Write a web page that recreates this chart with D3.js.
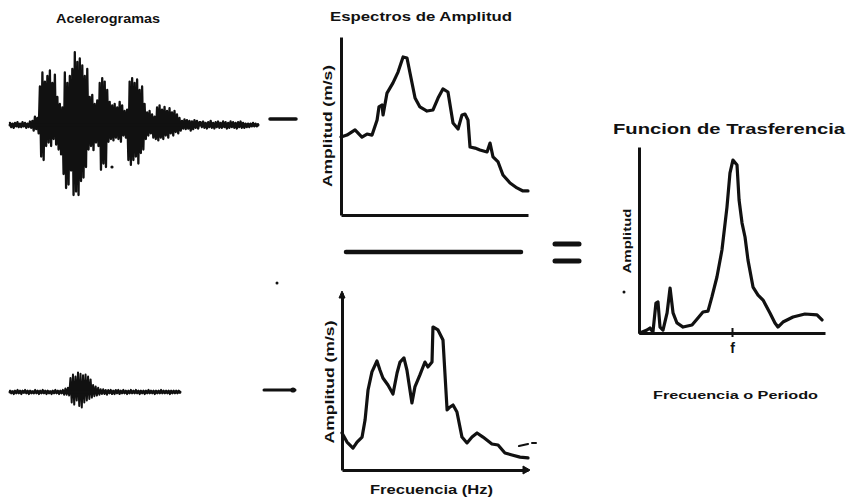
<!DOCTYPE html>
<html><head><meta charset="utf-8">
<script src="https://cdn.jsdelivr.net/npm/d3@7/dist/d3.min.js"></script>
<style>
html,body{margin:0;padding:0;background:#fff;}
svg{display:block;}
text{font-family:"Liberation Sans",Arial,sans-serif;font-weight:bold;fill:#111;}
</style></head>
<body><svg id="c" width="852" height="501"></svg>
<script>
// ---------- DATA ----------
// Accelerogram samples (arbitrary acceleration units), strong record
const accelStrong = [
 0.03,-0.03,0.02,-0.04,0.03,-0.02,0.04,-0.03,0.02,-0.03,0.04,-0.02,0.03,-0.04,0.02,-0.03,0.05,-0.04,0.06,
 -0.08,0.12,-0.06,0.1,-0.12,
 0.55,-0.45,0.75,-0.5,0.62,-0.3,0.7,
 -0.25,0.78,-0.3,0.6,-0.2,0.72,-0.28,0.4,
 -0.35,0.3,-0.42,0.25,
 -0.7,0.75,-0.9,0.6,-0.85,0.7,-0.65,0.8,
 -1.0,1.04,-0.95,0.9,-1.0,0.95,
 -0.8,0.85,-0.75,0.7,-0.6,0.8,
 -0.35,0.4,-0.3,0.43,-0.36,0.3,-0.25,0.35,-0.3,
 0.6,-0.64,0.67,-0.55,0.62,-0.6,0.5,
 -0.24,0.33,-0.2,0.28,-0.22,0.3,-0.18,0.25,-0.2,0.33,-0.24,0.28,-0.15,0.2,-0.18,0.22,
 -0.5,0.62,-0.57,0.67,-0.5,0.6,-0.45,0.65,-0.55,0.5,-0.4,0.55,-0.35,0.3,
 -0.2,0.18,-0.15,0.2,-0.12,0.15,-0.18,0.12,
 -0.2,0.25,-0.22,0.28,-0.18,0.22,-0.2,0.26,-0.15,0.2,-0.18,0.24,-0.12,0.18,-0.15,0.2,-0.1,0.15,-0.12,0.1,
 -0.08,0.06,-0.05,0.08,-0.06,0.07,-0.05,0.06,-0.08,0.05,-0.06,0.07,-0.04,0.06,-0.05,0.04,
 0.04,-0.03,0.05,-0.04,0.03,-0.05,0.04,-0.03,0.06,-0.04,0.03,-0.05,0.04,-0.03,0.05,-0.04,0.03,-0.04,0.05,-0.03,0.04,-0.05,0.03,-0.04,0.05,-0.03,0.04,-0.04,0.03,-0.05,0.04,-0.03,0.05,-0.04,0.03,-0.04,0.02,-0.03,0.02,-0.03,0.02,-0.02,0.03,-0.02,0.02,-0.02,0.01
];
// Accelerogram samples, weak record
const accelWeak = [
 0.02,-0.02,0.01,-0.03,0.02,-0.02,0.03,-0.02,0.02,-0.03,0.02,-0.01,0.03,-0.02,0.02,-0.03,0.02,-0.02,0.01,-0.02,0.03,-0.02,0.02,-0.03,
 0.02,-0.02,0.03,-0.02,0.02,-0.03,0.02,-0.02,0.01,-0.03,0.02,-0.02,0.03,-0.02,0.02,-0.03,0.02,-0.02,0.03,-0.04,0.05,-0.04,0.06,-0.05,
 0.2,-0.15,0.25,-0.18,0.22,-0.12,
 0.28,-0.2,0.26,-0.22,0.24,
 -0.15,0.25,-0.12,0.22,-0.1,0.18,
 -0.08,0.1,-0.06,0.08,-0.05,0.06,
 -0.04,0.04,-0.03,0.04,-0.03,0.03,-0.04,0.03,-0.02,0.03,-0.03,0.02,-0.03,0.03,-0.02,0.03,-0.03,0.02,-0.02,0.03,-0.02,0.02,-0.03,0.02,-0.02,0.03,-0.02,0.02,-0.02,0.03,
 -0.02,0.02,-0.03,0.02,-0.02,0.02,-0.03,0.02,-0.02,0.03,-0.02,0.02,-0.02,0.02,-0.03,0.02,-0.02,0.02,-0.02,0.03,-0.02,0.02,-0.02,0.02,-0.02,0.02,-0.03,0.02,-0.02,0.02,
 -0.02,0.02,-0.02,0.02,-0.01
];
// Amplitude spectrum of strong record: frequency (Hz), amplitude
const specTopFreq = [0,0.32,0.75,1.12,1.39,1.66,1.93,2.03,2.19,2.25,2.46,2.78,3.05,3.32,3.53,3.69,3.96,4.22,4.60,4.92,5.19,5.45,5.72,5.99,6.26,6.47,6.63,6.79,6.90,7.17,7.43,7.81,7.97,8.13,8.40,8.66,9.04,9.41,9.73,10.0];
const specTopAmp  = [4.38,4.49,4.78,4.38,4.55,4.49,5.34,6.07,6.18,5.62,6.85,7.42,8.03,8.88,8.82,7.98,6.57,6.07,5.84,5.90,6.57,7.08,6.91,5.17,4.83,5.62,5.67,5.34,3.82,3.76,3.65,3.54,4.04,3.26,2.98,2.25,1.80,1.52,1.35,1.35];
// Amplitude spectrum of weak record
const specBotFreq = [0,0.27,0.59,0.81,1.08,1.24,1.40,1.61,1.88,2.04,2.20,2.47,2.74,2.96,3.12,3.33,3.49,3.76,3.92,4.19,4.46,4.62,4.84,4.89,5.16,5.43,5.65,5.81,5.97,6.18,6.45,6.72,6.99,7.26,7.58,8.06,8.39,8.76,9.14,9.57,10.0];
const specBotAmp  = [2.09,1.58,1.24,1.58,1.86,2.82,4.52,5.54,6.16,5.65,5.20,4.80,4.29,5.48,6.10,6.33,5.65,3.79,4.69,5.37,6.10,5.82,6.10,8.08,7.91,7.34,3.39,3.56,3.67,3.28,1.86,1.53,1.86,2.09,1.86,1.47,1.41,0.96,0.85,0.73,0.68];
// Transfer function
const transFreq = [0.05,0.43,0.59,0.75,0.91,1.02,1.13,1.29,1.51,1.67,1.83,2.04,2.37,2.85,3.17,3.44,3.71,3.92,4.19,4.46,4.73,4.89,5.05,5.27,5.38,5.54,5.70,5.86,6.13,6.40,6.67,7.04,7.31,7.47,7.74,8.28,8.92,9.57,9.84];
const transAmp  = [0,0.16,0.27,0.05,1.61,1.67,0.32,0.16,1.08,2.42,1.08,0.54,0.32,0.43,0.81,1.13,1.18,1.94,3.01,4.46,6.77,8.60,9.30,9.03,7.15,5.91,5.16,3.92,2.47,2.04,1.77,1.08,0.54,0.32,0.59,0.86,1.02,0.97,0.70];
const transTicks = [5];
const transTickLabels = ["f"];

// ---------- DRAW ----------
const svg = d3.select("#c");
svg.append("rect").attr("width",852).attr("height",501).attr("fill","#fff");
const INK = "#111";

// Accelerograms
function drawAccel(data, x0, x1, base, sw){
  const x = d3.scaleLinear().domain([0,data.length-1]).range([x0,x1]);
  const y = d3.scaleLinear().domain([-1.1,1.1]).range([base+77, base-77]);
  svg.append("path").datum(data)
    .attr("d", d3.line().x((d,i)=>x(i)).y(d=>y(d)))
    .attr("fill","none").attr("stroke",INK).attr("stroke-width",sw)
    .attr("stroke-linejoin","round").attr("stroke-linecap","round");
  svg.append("line").attr("x1",x0).attr("x2",x1).attr("y1",base).attr("y2",base)
    .attr("stroke",INK).attr("stroke-width",3).attr("stroke-linecap","round");
}
drawAccel(accelStrong, 10, 258, 125, 2.3);
drawAccel(accelWeak, 10, 180, 392, 2);
svg.append("circle").attr("cx",112).attr("cy",167).attr("r",1.6).attr("fill",INK);

// arrows (dashes)
svg.append("line").attr("x1",270).attr("x2",296).attr("y1",119).attr("y2",119)
  .attr("stroke",INK).attr("stroke-width",3.5).attr("stroke-linecap","round");
svg.append("line").attr("x1",264).attr("x2",295).attr("y1",390).attr("y2",390)
  .attr("stroke",INK).attr("stroke-width",3).attr("stroke-linecap","round");
svg.append("circle").attr("cx",293).attr("cy",390).attr("r",2.6).attr("fill",INK);

// Panel helper
function panel(freq, amp, xr, yr){
  const x = d3.scaleLinear().domain([0,10]).range(xr);
  const y = d3.scaleLinear().domain([0,10]).range(yr);
  const g = svg.append("g");
  const ax = g.append("g").attr("transform",`translate(${xr[0]},0)`)
    .call(d3.axisLeft(y).tickValues([]).tickSizeOuter(0));
  ax.select(".domain").attr("stroke",INK).attr("stroke-width",3);
  const pts = freq.map((f,i)=>[f,amp[i]]);
  g.append("path").datum(pts)
    .attr("d", d3.line().x(d=>x(d[0])).y(d=>y(d[1])))
    .attr("fill","none").attr("stroke",INK).attr("stroke-width",3.2)
    .attr("stroke-linejoin","round").attr("stroke-linecap","round");
  return {g,x,y};
}

// Top spectrum
const P1 = panel(specTopFreq, specTopAmp, [341,528], [215,37]);
P1.g.append("g").attr("transform","translate(0,215)")
  .call(d3.axisBottom(P1.x).tickValues([]).tickSizeOuter(0))
  .select(".domain").attr("stroke",INK).attr("stroke-width",3);

// Bottom spectrum
const P2 = panel(specBotFreq, specBotAmp, [342,528], [470,293]);
P2.g.append("g").attr("transform","translate(0,470)")
  .call(d3.axisBottom(P2.x).tickValues([]).tickSizeOuter(0))
  .select(".domain").attr("stroke",INK).attr("stroke-width",3);
// arrowheads
P2.g.append("path").attr("d","M523,466 L530,470 L523,474 Z").attr("fill",INK).attr("stroke",INK).attr("stroke-width",1);
P2.g.append("path").attr("d","M339,298 L342,291 L345,298 Z").attr("fill",INK).attr("stroke",INK).attr("stroke-width",1);
// small stray dash near end
P2.g.append("line").attr("x1",519).attr("x2",528).attr("y1",446).attr("y2",444)
  .attr("stroke",INK).attr("stroke-width",2.2).attr("stroke-linecap","round");
P2.g.append("line").attr("x1",532).attr("x2",536).attr("y1",443).attr("y2",443)
  .attr("stroke",INK).attr("stroke-width",2).attr("stroke-linecap","round");

// Fraction bar and equals
svg.append("line").attr("x1",346).attr("x2",521).attr("y1",252).attr("y2",252)
  .attr("stroke",INK).attr("stroke-width",4.5).attr("stroke-linecap","round");
svg.append("line").attr("x1",555).attr("x2",579).attr("y1",244).attr("y2",244)
  .attr("stroke",INK).attr("stroke-width",5).attr("stroke-linecap","round");
svg.append("line").attr("x1",555).attr("x2",579).attr("y1",261).attr("y2",261)
  .attr("stroke",INK).attr("stroke-width",5).attr("stroke-linecap","round");

// Transfer function
const P3 = panel(transFreq, transAmp, [639,825], [333,147]);
const xa3 = P3.g.append("g").attr("transform","translate(0,333)")
  .call(d3.axisBottom(P3.x).tickValues(transTicks).tickFormat((d,i)=>transTickLabels[i]).tickSize(4).tickSizeOuter(0));
xa3.select(".domain").attr("stroke",INK).attr("stroke-width",3);
xa3.selectAll(".tick line").attr("y1",-5).attr("y2",4).attr("stroke",INK).attr("stroke-width",2);
xa3.selectAll(".tick text").attr("y",10).attr("dy","0.71em").attr("font-size",14)
  .attr("font-family","Liberation Sans, Arial, sans-serif").attr("font-weight","bold").attr("fill",INK);

// stray dots
svg.append("circle").attr("cx",277).attr("cy",283).attr("r",1.5).attr("fill",INK);
svg.append("circle").attr("cx",624).attr("cy",292).attr("r",1.5).attr("fill",INK);

// Texts
function label(t, x, y, len, size, rot){
  const el = svg.append("text").text(t).attr("font-size",size)
    .attr("textLength",len).attr("lengthAdjust","spacingAndGlyphs");
  if(rot){
    el.attr("text-anchor","middle").attr("transform",`translate(${x},${y}) rotate(-90)`);
  } else {
    el.attr("x",x).attr("y",y);
  }
  return el;
}
label("Acelerogramas", 56, 23, 104, 13);
label("Espectros de Amplitud", 330, 21, 182, 13);
label("Funcion de Trasferencia", 613, 134, 232, 15);
label("Frecuencia o Periodo", 653, 399, 165, 11);
label("Frecuencia (Hz)", 370, 494, 123, 12);
label("Amplitud (m/s)", 332, 126, 122, 12, true);
label("Amplitud (m/s)", 334, 382, 123, 12, true);
label("Amplitud", 631, 241, 65, 11, true);
</script></body></html>
